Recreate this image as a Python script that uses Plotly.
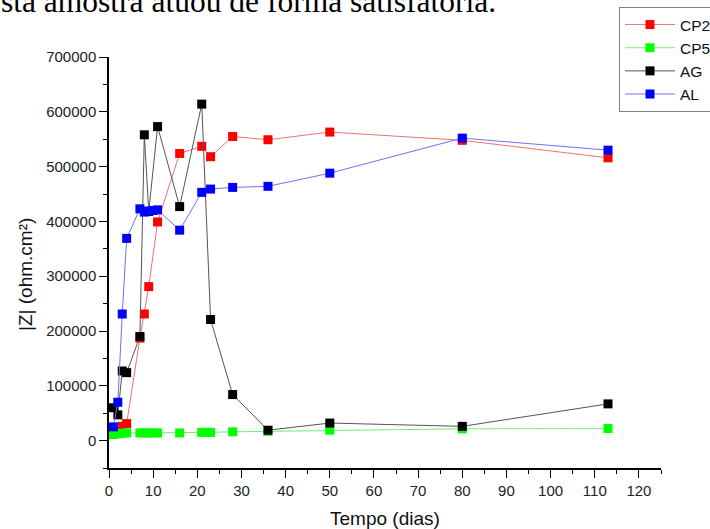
import plotly.graph_objects as go

# ---- data ----
days_cp2 = [1, 2, 3, 4, 7, 8, 9, 11, 16, 21, 23, 28, 36, 50, 80, 113]
z_cp2 = [20000, 22000, 26000, 31000, 187000, 231000, 281000, 399000, 524000, 537000, 518000, 555000, 549000, 563000, 548000, 516000]

days_cp5 = [1, 2, 3, 4, 7, 8, 9, 10, 11, 16, 21, 22, 23, 28, 36, 50, 80, 113]
z_cp5 = [11000, 12500, 13500, 14000, 14000, 14000, 14000, 14000, 14000, 14000, 15000, 15000, 15000, 16000, 17000, 19000, 21500, 22000]

days_ag = [1, 2, 3, 4, 7, 8, 9, 11, 16, 21, 23, 28, 36, 50, 80, 113]
z_ag = [60000, 47000, 127000, 124000, 190000, 558000, 418000, 573000, 427000, 614000, 221000, 84000, 19000, 32000, 26000, 67000]

days_al = [1, 2, 3, 4, 7, 8, 9, 10, 11, 16, 21, 23, 28, 36, 50, 80, 113]
z_al = [25000, 70000, 231000, 369000, 423000, 417000, 419000, 420000, 421000, 384000, 453000, 459000, 462000, 464000, 488000, 552000, 530000]

series_names = ["CP2", "CP5", "AG", "AL"]
x_ticks = [0, 10, 20, 30, 40, 50, 60, 70, 80, 90, 100, 110, 120]
y_ticks = [0, 100000, 200000, 300000, 400000, 500000, 600000, 700000]

# ---- figure ----
W, H = 710, 529
L, R, T, B = 109, 49, 57, 61
pw, ph = W - L - R, H - T - B

def px(xp):
    return (xp - L) / pw

def py(yp):
    return (H - B - yp) / ph

styles = [
    dict(marker="#ff0000", line="#f07070"),
    dict(marker="#00ff00", line="#70f070"),
    dict(marker="#000000", line="#555555"),
    dict(marker="#0000ff", line="#7070f0"),
]
data = [(days_cp2, z_cp2), (days_cp5, z_cp5), (days_ag, z_ag), (days_al, z_al)]

fig = go.Figure()
for (xs, ys), name, st in zip(data, series_names, styles):
    fig.add_trace(go.Scatter(
        x=xs, y=ys, name=name, mode="lines+markers",
        line=dict(color=st["line"], width=1),
        marker=dict(symbol="square", size=9, color=st["marker"], line=dict(width=0)),
    ))

tickfont = dict(family="Liberation Sans, Arial, sans-serif", size=15, color="#222")

fig.update_layout(
    width=W, height=H,
    margin=dict(l=L, r=R, t=T, b=B, autoexpand=False),
    paper_bgcolor="white", plot_bgcolor="white",
    showlegend=True,
    legend=dict(
        x=px(619), y=py(7), xanchor="left", yanchor="top",
        bordercolor="#808080", borderwidth=1, bgcolor="white",
        font=dict(family="Liberation Sans, Arial, sans-serif", size=15.5, color="#111"),
        itemwidth=50, tracegroupgap=0,
    ),
    xaxis=dict(
        range=[0, 125], tickmode="array", tickvals=x_ticks,
        ticks="outside", ticklen=8, tickwidth=1.2, tickcolor="#000",
        minor=dict(dtick=5, tick0=0, ticks="outside", ticklen=4, tickwidth=1.2, tickcolor="#000", showgrid=False),
        showline=True, linecolor="#000", linewidth=1.5,
        showgrid=False, zeroline=False, tickfont=tickfont,
    ),
    yaxis=dict(
        range=[-50000, 700000], tickmode="array", tickvals=y_ticks, tickformat="d",
        ticks="outside", ticklen=8, tickwidth=1.2, tickcolor="#000",
        minor=dict(dtick=50000, tick0=0, ticks="outside", ticklen=4, tickwidth=1.2, tickcolor="#000", showgrid=False),
        showline=True, linecolor="#000", linewidth=1.5,
        showgrid=False, zeroline=False, tickfont=tickfont,
    ),
)

fig.add_annotation(
    text="sta amostra atuou de forma satisfatória.",
    xref="paper", yref="paper", x=px(-1), y=py(20.5),
    xanchor="left", yanchor="bottom", showarrow=False,
    font=dict(family="Liberation Serif, Times New Roman, serif", size=31.5, color="#000"),
)
fig.add_annotation(
    text="Tempo (dias)", xref="paper", yref="paper", x=px(385), y=py(518),
    xanchor="center", yanchor="middle", showarrow=False,
    font=dict(family="Liberation Sans, Arial, sans-serif", size=19, color="#111"),
)
fig.add_annotation(
    text="|Z| (ohm.cm²)", xref="paper", yref="paper", x=px(25), y=py(275),
    xanchor="center", yanchor="middle", textangle=-90, showarrow=False,
    font=dict(family="Liberation Sans, Arial, sans-serif", size=19, color="#111"),
)

fig.write_html("out.html")
